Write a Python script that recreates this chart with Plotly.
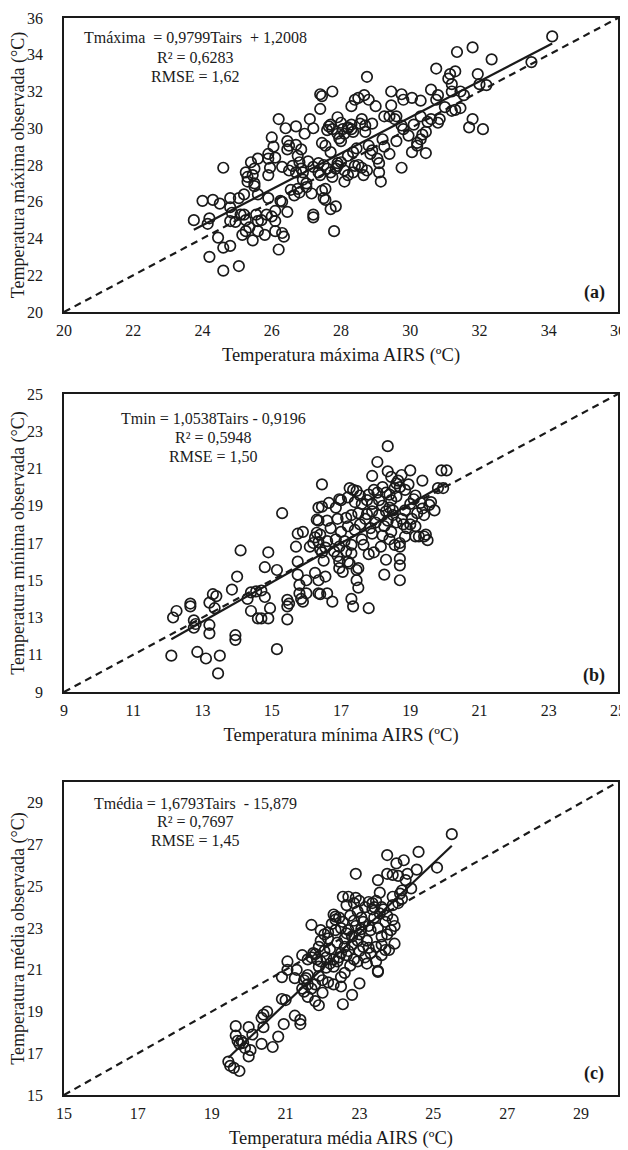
import plotly.graph_objects as go

# panel (a) - temperatura maxima
tmax_airs = [34.1, 33.5, 32.35, 31.8, 31.35, 30.75, 31.3, 31.15, 31.95, 31.1, 31.2, 32.0, 32.2, 30.6, 31.2, 31.45, 31.55, 30.8, 30.75, 30.3,
             30.05, 29.8, 29.75, 29.45, 31.45, 31.3, 31.2, 31.0, 30.85, 30.8, 30.6, 30.5, 30.3, 31.8, 31.7, 32.1, 30.45, 30.35, 30.3, 30.2,
             30.2, 30.45, 30.05, 29.75, 29.45, 29.25, 29.4, 29.6, 29.0, 29.8, 29.75, 29.6, 29.4, 29.1, 29.1, 29.15, 29.05, 28.9, 28.85, 28.8,
             28.7, 28.75, 28.8, 28.67, 28.4, 28.5, 28.3, 28.6, 28.55, 28.7, 28.3, 28.2, 28.3, 28.0, 28.05, 27.75, 27.4, 27.45, 27.4, 27.1,
             26.7, 26.4, 26.2, 26.0, 26.05, 26.1, 25.9, 25.9, 25.95, 25.9, 25.6, 25.4, 25.5, 25.45, 25.25, 25.3, 25.3, 25.5, 25.5, 24.6,
             25.9, 25.6, 25.2, 25.05, 24.8, 24.5, 24.3, 24.0, 23.75, 24.2, 24.15, 24.45, 24.6, 24.8, 24.2, 24.6, 25.05, 24.8, 24.8, 25.1,
             25.2, 25.15, 25.25, 25.35, 25.45, 25.6, 25.6, 25.7, 25.8, 25.85, 26.0, 26.1, 26.1, 26.1, 26.3, 26.35, 26.45, 26.25, 26.3, 26.2,
             26.55, 26.75, 26.9, 27.0, 27.0, 26.7, 26.85, 26.9, 26.45, 26.5, 26.45, 26.7, 26.85, 26.75, 26.95, 27.2, 27.45, 27.55, 27.7, 27.35,
             27.5, 27.6, 27.7, 27.75, 27.4, 27.35, 27.55, 27.45, 27.5, 27.55, 27.15, 27.2, 27.2, 27.7, 27.85, 27.8, 27.9, 28.0, 27.9, 27.85,
             28.1, 28.1, 28.2, 28.35, 28.2, 28.35, 28.45, 28.5, 28.4, 28.6, 28.75, 28.65, 28.0, 28.1, 28.2, 27.9, 27.95, 27.65, 27.75, 26.6,
             26.8, 27.05, 27.2, 26.65, 26.8, 26.3, 26.5, 25.55, 24.95, 25.25, 24.85, 27.6, 27.7, 27.9, 28.35, 28.9, 29.2, 29.25, 29.55, 30.1,
             29.95]
tmax_obs = [35.0, 33.6, 33.75, 34.4, 34.15, 33.25, 33.1, 32.95, 32.95, 32.7, 32.4, 32.4, 32.35, 32.1, 32.0, 32.0, 31.8, 31.8, 31.55, 31.5,
            31.65, 31.55, 31.85, 32.0, 31.1, 31.0, 30.95, 31.15, 30.5, 30.3, 30.5, 30.35, 30.65, 30.5, 30.05, 29.95, 29.8, 29.65, 29.4, 29.2,
            29.05, 28.65, 28.7, 27.85, 31.25, 30.65, 30.65, 30.65, 31.2, 29.95, 30.15, 29.3, 28.6, 28.1, 27.6, 27.1, 28.35, 28.8, 28.6, 29.05,
            29.8, 32.8, 31.55, 31.8, 31.55, 31.65, 31.2, 30.5, 30.25, 30.15, 30.2, 30.05, 29.95, 30.3, 29.95, 32.0, 31.85, 31.75, 31.05, 30.5,
            30.1, 30.0, 30.5, 29.5, 29.0, 28.4, 28.6, 28.35, 27.85, 27.45, 28.35, 28.15, 27.8, 27.45, 27.6, 27.35, 27.1, 27.0, 26.85, 27.85,
            26.2, 26.4, 26.4, 26.2, 26.2, 25.9, 26.1, 26.05, 25.0, 25.1, 24.8, 24.05, 23.5, 23.6, 23.0, 22.25, 22.5, 24.95, 25.7, 25.3,
            25.3, 24.2, 24.4, 24.6, 23.9, 24.4, 24.95, 25.0, 24.2, 25.3, 25.2, 25.5, 24.95, 24.4, 24.3, 24.1, 25.45, 26.05, 26.0, 23.4,
            26.65, 26.7, 27.2, 27.0, 26.8, 27.6, 27.8, 27.6, 29.3, 29.05, 28.85, 29.1, 28.85, 28.5, 29.7, 30.0, 29.2, 29.05, 28.7, 28.1,
            28.0, 27.8, 27.6, 27.35, 27.45, 27.6, 26.7, 26.6, 26.2, 26.1, 26.45, 25.3, 25.15, 25.6, 25.75, 24.4, 28.1, 28.15, 27.95, 27.8,
            27.7, 27.1, 27.45, 27.6, 28.5, 28.7, 28.9, 28.0, 27.95, 27.85, 27.7, 27.45, 29.3, 29.7, 30.0, 29.7, 29.45, 30.1, 29.95, 27.95,
            28.15, 28.2, 27.9, 26.35, 26.5, 27.9, 27.7, 25.3, 24.9, 25.0, 25.4, 29.9, 30.2, 30.6, 29.8, 30.25, 29.4, 29.0, 30.5, 30.2,
            29.6]

# panel (b) - temperatura minima
tmin_airs = [18.35, 18.05, 18.35, 19.0, 19.9, 20.05, 19.35, 17.9, 18.45, 18.75, 16.45, 17.25, 17.45, 17.95, 18.6, 18.7, 18.85, 19.8, 19.95, 19.6,
             19.7, 19.4, 19.15, 19.3, 19.45, 19.4, 19.25, 19.5, 19.15, 19.0, 18.9, 19.15, 18.85, 18.7, 18.7, 18.55, 18.7, 18.7, 18.7, 18.3,
             18.25, 17.8, 17.35, 17.3, 17.5, 17.45, 17.45, 17.5, 17.3, 17.2, 17.25, 17.05, 16.95, 16.95, 16.9, 16.75, 16.6, 16.4, 16.35, 16.55,
             16.35, 16.25, 16.5, 16.45, 16.55, 16.6, 16.4, 16.35, 16.3, 16.4, 16.35, 16.3, 16.35, 16.0, 16.0, 15.9, 15.85, 15.8, 15.8, 15.75,
             15.75, 15.7, 15.75, 15.9, 16.1, 16.2, 16.25, 15.3, 15.45, 15.5, 15.45, 15.45, 15.15, 15.15, 14.9, 14.95, 14.9, 14.8, 14.8, 14.7,
             14.6, 14.7, 14.55, 14.4, 14.4, 14.3, 14.1, 14.0, 13.95, 13.95, 13.85, 13.5, 13.45, 13.4, 13.3, 13.35, 13.2, 13.2, 13.2, 13.1,
             12.85, 12.75, 12.8, 12.75, 12.65, 12.65, 12.25, 12.15, 12.1,
             17.0, 17.2, 17.4, 17.6, 17.8, 17.9, 18.1, 18.2, 18.3, 18.4, 18.45, 18.5, 18.35, 18.25, 18.1, 18.0, 17.85, 17.7, 17.55, 17.4,
             17.2, 17.0, 16.85, 16.95, 17.1, 17.6, 17.9, 18.2, 18.45, 18.6, 18.75, 18.85, 19.0, 18.6, 18.3, 17.9, 17.75, 17.5, 17.3, 17.15,
             16.9, 16.7, 16.6, 16.85, 16.95, 16.65, 16.45, 17.35, 17.75, 18.05, 18.55, 18.95, 19.2, 19.05, 18.8, 18.4, 18.15, 17.95, 17.8, 17.65,
             17.3, 16.8, 18.5, 18.4, 18.2, 18.65, 19.1, 19.55, 19.35, 17.55, 17.15]
tmin_obs = [22.2, 21.35, 20.85, 20.9, 20.9, 20.9, 20.35, 20.6, 20.55, 20.65, 20.15, 19.95, 19.8, 19.85, 20.2, 20.0, 19.85, 19.95, 19.95, 19.2,
            18.75, 18.5, 19.55, 19.15, 17.45, 17.35, 17.35, 17.15, 17.35, 18.0, 17.8, 17.9, 17.35, 17.0, 16.8, 16.9, 16.15, 15.8, 15.0, 16.1,
            15.3, 13.5, 13.6, 14.0, 14.6, 15.0, 15.55, 15.65, 16.45, 16.0, 15.9, 15.45, 15.65, 16.0, 16.3, 13.85, 14.3, 14.25, 14.3, 15.2,
            15.0, 15.4, 16.05, 16.5, 16.75, 17.1, 16.65, 17.05, 17.55, 17.45, 18.2, 18.25, 18.9, 15.0, 14.3, 13.85, 14.0, 14.3, 14.75, 15.3,
            16.0, 16.8, 17.5, 17.6, 16.8, 17.0, 17.3, 18.6, 13.95, 13.75, 13.6, 12.9, 11.3, 15.55, 16.5, 13.5, 12.95, 15.7, 14.1, 12.95,
            12.95, 14.45, 14.4, 14.35, 13.35, 14.0, 16.6, 15.2, 12.05, 11.8, 14.5, 10.95, 10.0, 14.15, 14.25, 13.5, 13.8, 12.6, 12.15, 10.8,
            11.15, 12.85, 12.65, 12.45, 13.75, 13.6, 13.35, 13.0, 10.95,
            19.3, 19.45, 19.2, 19.1, 19.6, 19.1, 19.3, 19.0, 18.7, 18.9, 19.3, 18.5, 18.2, 17.9, 18.5, 18.1, 17.8, 18.3, 18.0, 17.7,
            17.9, 17.6, 17.2, 16.8, 17.1, 17.2, 17.5, 17.4, 17.6, 18.1, 18.3, 18.75, 19.1, 19.5, 19.7, 18.7, 18.55, 18.6, 18.5, 18.35,
            18.3, 17.8, 18.2, 18.9, 19.35, 19.15, 18.95, 19.85, 19.3, 19.7, 19.95, 20.15, 18.6, 18.3, 18.0, 17.2, 16.8, 16.5, 16.4, 16.9,
            16.9, 16.55, 18.75, 19.6, 20.0, 20.35, 19.35, 19.05, 18.85, 19.55, 16.55]

# panel (c) - temperatura media
tmed_airs = [25.5, 24.6, 23.75, 24.2, 24.0, 25.1, 24.55, 24.3, 23.75, 23.9, 24.05, 22.9, 23.5, 24.25, 24.4, 24.1, 24.15, 23.55, 23.9, 22.7,
             22.9, 22.3, 22.35, 23.35, 23.4, 23.95, 23.85, 23.9, 23.95, 23.7, 23.5, 23.5, 23.0, 22.8, 22.55, 22.5, 22.5, 22.3, 22.0, 21.9,
             21.7, 21.95, 22.05, 21.75, 21.8, 21.45, 21.55, 21.6, 21.5, 21.5, 21.45, 21.4, 21.4, 21.25, 21.05, 21.05, 21.0, 20.9, 20.9, 20.95,
             20.8, 20.65, 20.5, 20.4, 20.35, 20.4, 20.35, 20.1, 20.05, 20.0, 20.0, 19.85, 19.8, 19.7, 19.65, 19.75, 19.65, 19.45, 19.5, 19.6,
             19.75, 19.9,
             22.2, 22.4, 22.5, 22.6, 22.7, 22.8, 22.9, 23.0, 23.1, 23.2, 23.3, 23.4, 23.5, 23.6, 22.3, 22.45, 22.65, 22.85, 23.0, 23.15,
             23.3, 23.45, 23.6, 23.75, 22.1, 21.95, 22.15, 22.35, 22.55, 22.75, 22.95, 23.15, 23.35, 23.55, 23.7, 22.25, 22.45, 22.65, 22.85, 23.05,
             22.6, 22.8, 23.1, 23.25, 22.95, 22.7, 22.4, 22.2, 22.05, 21.85, 21.7, 21.9, 23.45, 23.2, 22.95, 23.6, 23.8, 23.75, 23.6, 23.45,
             23.25, 22.55, 22.35, 22.15, 21.95, 22.6, 22.75, 21.6, 21.3, 21.25, 21.6, 21.7, 21.8, 22.0, 22.15, 22.3, 21.9, 21.8, 21.6, 22.65,
             23.05, 23.25, 22.85, 22.5, 23.0, 22.1, 21.9, 23.9, 24.05, 24.15, 23.65]
tmed_obs = [27.5, 26.65, 26.5, 26.25, 26.1, 25.9, 25.8, 25.6, 25.6, 25.55, 25.5, 25.6, 25.3, 25.3, 24.9, 24.65, 24.4, 24.7, 24.5, 24.5,
            24.45, 23.65, 23.55, 24.2, 24.0, 23.1, 22.9, 23.4, 22.25, 21.95, 20.95, 20.9, 20.35, 19.8, 19.35, 20.65, 20.2, 21.15, 19.9, 19.3,
            23.15, 22.9, 22.7, 21.8, 21.75, 21.7, 20.6, 20.75, 20.5, 19.95, 20.1, 18.4, 18.6, 18.8, 21.4, 21.0, 19.55, 19.6, 20.65, 18.4,
            17.8, 17.3, 19.0, 18.85, 18.7, 18.25, 17.45, 17.9, 17.15, 18.25, 16.85, 17.5, 17.6, 17.6, 17.85, 17.45, 18.3, 16.6, 16.4, 16.3,
            16.15, 17.25,
            22.0, 22.3, 21.8, 22.5, 22.9, 22.2, 23.1, 22.7, 23.3, 22.4, 22.9, 23.5, 23.0, 22.6, 21.5, 21.6, 21.7, 21.5, 21.9, 21.6,
            21.8, 22.1, 22.2, 22.7, 21.6, 21.4, 22.5, 22.9, 23.3, 23.6, 23.8, 24.0, 23.9, 23.7, 23.3, 23.2, 23.5, 24.1, 24.2, 23.5,
            22.1, 22.6, 22.1, 22.05, 22.4, 21.9, 21.4, 21.3, 21.9, 21.5, 21.6, 22.1, 21.4, 21.3, 21.4, 21.7, 21.95, 23.6, 24.0, 24.3,
            24.25, 24.5, 23.4, 22.8, 22.4, 20.85, 21.2, 21.5, 21.0, 20.6, 20.3, 20.1, 20.3, 20.5, 20.4, 20.3, 20.7, 19.5, 19.7, 22.75,
            22.95, 23.1, 23.35, 23.0, 24.3, 21.1, 21.15, 24.1, 24.2, 24.8, 23.9]

ranges = [(20, 36), (9, 25), (15, 30)]
fits = [(0.9799, 1.2008), (1.0538, -0.9196), (1.6793, -15.879)]
eq_text = [["Tmáxima  = 0,9799Tairs  + 1,2008", "R² = 0,6283", "RMSE = 1,62"],
           ["Tmin = 1,0538Tairs - 0,9196", "R² = 0,5948", "RMSE = 1,50"],
           ["Tmédia = 1,6793Tairs  - 15,879", "R² = 0,7697", "RMSE = 1,45"]]
panel_tags = ["(a)", "(b)", "(c)"]
x_titles = ["Temperatura máxima AIRS (ºC)", "Temperatura mínima AIRS (ºC)", "Temperatura média AIRS (ºC)"]
y_titles = ["Temperatura máxima observada (°C)", "Temperatura mínima observada (°C)", "Temperatura média observada (°C)"]

xs = [tmax_airs, tmin_airs, tmed_airs]
ys = [tmax_obs, tmin_obs, tmed_obs]

# page has an 8px body margin, so the figure itself is 8px smaller
OFF = 8
FW, FH = 628 - OFF, 1150 - OFF
L, R = 64 - OFF, 618 - OFF
W = R - L
# panel pixel boxes (top, bottom) in page coordinates
boxes = [(18, 312), (394, 692), (782, 1095)]
ydomains = [[1 - (b - OFF) / FH, 1 - (t - OFF) / FH] for t, b in boxes]

FONT = "Liberation Serif, Times New Roman, serif"
ink = "#1a1a1a"

fig = go.Figure()

for i in range(3):
    xa = "x" if i == 0 else f"x{i+1}"
    ya = "y" if i == 0 else f"y{i+1}"
    lo, hi = ranges[i]
    a, b = fits[i]
    # 1:1 line
    fig.add_trace(go.Scatter(x=[lo, hi], y=[lo, hi], mode="lines", xaxis=xa, yaxis=ya,
                             line=dict(color=ink, width=2.2, dash="7px,5px"), showlegend=False))
    # observations
    fig.add_trace(go.Scatter(x=xs[i], y=ys[i], mode="markers", xaxis=xa, yaxis=ya,
                             marker=dict(symbol="circle-open", size=10.5, color=ink, line=dict(width=1.7)),
                             showlegend=False))
    # fitted line
    x0, x1 = min(xs[i]), max(xs[i])
    fig.add_trace(go.Scatter(x=[x0, x1], y=[a * x0 + b, a * x1 + b], mode="lines", xaxis=xa, yaxis=ya,
                             line=dict(color=ink, width=2.2), showlegend=False))

    axis_common = dict(showline=True, mirror=True, linecolor=ink, linewidth=1.5,
                       showgrid=False, zeroline=False, ticks="", automargin=False,
                       range=[lo, hi], tick0=lo, dtick=2, ticklabeloverflow="allow",
                       tickfont=dict(family=FONT, size=16, color=ink))
    fig.update_layout(**{
        ("xaxis" if i == 0 else f"xaxis{i+1}"): dict(
            axis_common, domain=[0, 1], anchor=ya, ticklabelstandoff=3,
            title=dict(text=x_titles[i], font=dict(family=FONT, size=18.5, color=ink), standoff=10)),
        ("yaxis" if i == 0 else f"yaxis{i+1}"): dict(
            axis_common, domain=ydomains[i], anchor=xa, ticklabelstandoff=16,
            title=dict(text=y_titles[i], font=dict(family=FONT, size=18, color=ink), standoff=0)),
    })

    # equation text
    top, bot = boxes[i]
    h = bot - top
    xc = [195, 213, 195][i]
    rows = [[38, 57, 76], [418, 437, 456], [803, 821, 840]][i]
    for txt, r in zip(eq_text[i], rows):
        fig.add_annotation(text=txt, xref=f"{xa} domain", yref=f"{ya} domain",
                           x=(xc - 64) / W, y=1 - (r - top) / h, showarrow=False,
                           xanchor="center", yanchor="middle",
                           font=dict(family=FONT, size=16, color=ink))
    tag_y = [293, 675, 1073][i]
    fig.add_annotation(text="<b>" + panel_tags[i] + "</b>", xref=f"{xa} domain", yref=f"{ya} domain",
                       x=(594 - 64) / W, y=1 - (tag_y - top) / h, showarrow=False,
                       xanchor="center", yanchor="middle",
                       font=dict(family=FONT, size=18, color=ink))

fig.update_layout(width=FW, height=FH, template="none",
                  margin=dict(l=L, r=FW - R, t=0, b=0),
                  paper_bgcolor="white", plot_bgcolor="white")

fig.write_html("out.html")
